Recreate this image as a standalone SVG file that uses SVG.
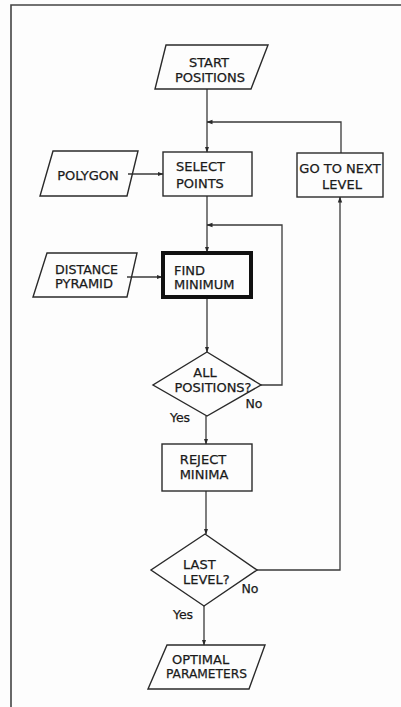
<svg xmlns="http://www.w3.org/2000/svg" width="401" height="707" viewBox="0 0 401 707">
<defs>
<marker id="ah" markerWidth="6" markerHeight="6" refX="5.5" refY="3" orient="auto" markerUnits="userSpaceOnUse">
<path d="M0,0.8 L6,3 L0,5.2 Z" fill="#2a2a2a"/>
</marker>
<style>
.s{fill:none;stroke:#2a2a2a;stroke-width:1.4;stroke-linejoin:miter}
.b{fill:none;stroke:#111;stroke-width:4}
.c{fill:none;stroke:#3a3a3a;stroke-width:1.3;marker-end:url(#ah)}
.t{font-family:"DejaVu Sans",sans-serif;font-size:13px;fill:#1a1a1a;stroke:#1a1a1a;stroke-width:0.25}
.m{text-anchor:middle}
.y{font-size:12.5px}
</style>
</defs>
<rect width="401" height="707" fill="#fdfdfd"/>
<path d="M11,707 V5 H401" fill="none" stroke="#444" stroke-width="1.6"/>
<g id="connectors">
<path class="c" d="M207,89 V152"/>
<path class="c" d="M341,153 V122 H207"/>
<path class="c" d="M128,174 H163"/>
<path class="c" d="M207,196 V252"/>
<path class="c" d="M261,385 H282 V225 H207"/>
<path class="c" d="M127,277 H162"/>
<path class="c" d="M207,298 V352"/>
<path class="c" d="M206,416 V444"/>
<path class="c" d="M206,491 V534"/>
<path class="c" d="M257,570 H340 V197"/>
<path class="c" d="M204,606 V645"/>
</g>
<g id="start">
<path class="s" d="M166,45 H268 L251,89 H155 Z"/>
<text class="t m" x="209" y="67">START</text>
<text class="t m" x="210" y="82">POSITIONS</text>
</g>
<g id="polygon">
<path class="s" d="M53,151 H138 L127,196 H40 Z"/>
<text class="t m" x="88" y="180">POLYGON</text>
</g>
<g id="select">
<rect class="s" x="163" y="152" width="89" height="44"/>
<text class="t" x="176" y="171">SELECT</text>
<text class="t" x="176" y="188">POINTS</text>
</g>
<g id="next">
<rect class="s" x="297" y="153" width="86" height="44"/>
<text class="t m" x="340" y="173">GO TO NEXT</text>
<text class="t m" x="342" y="189">LEVEL</text>
</g>
<g id="distance">
<path class="s" d="M47,253 H137 L127,297 H33 Z"/>
<text class="t" x="55" y="274" textLength="63" lengthAdjust="spacingAndGlyphs">DISTANCE</text>
<text class="t" x="55" y="288">PYRAMID</text>
</g>
<g id="find">
<rect class="b" x="163" y="253" width="88" height="44"/>
<text class="t" x="174" y="275">FIND</text>
<text class="t" x="174" y="289">MINIMUM</text>
</g>
<g id="allpos">
<path class="s" d="M207,352 L261,385 L207,416 L153,385 Z"/>
<text class="t m" x="205" y="377">ALL</text>
<text class="t m" x="213" y="392">POSITIONS?</text>
<text class="t y m" x="254" y="408">No</text>
<text class="t y m" x="180" y="422">Yes</text>
</g>
<g id="reject">
<rect class="s" x="162" y="444" width="90" height="47"/>
<text class="t m" x="203" y="464">REJECT</text>
<text class="t m" x="204" y="479">MINIMA</text>
</g>
<g id="lastlevel">
<path class="s" d="M205,534 L257,570 L204,606 L151,570 Z"/>
<text class="t" x="183" y="569">LAST</text>
<text class="t" x="183" y="584">LEVEL?</text>
<text class="t y m" x="250" y="593">No</text>
<text class="t y m" x="183" y="619">Yes</text>
</g>
<g id="optimal">
<path class="s" d="M167,645 H265 L249,689 H148 Z"/>
<text class="t" x="172" y="664">OPTIMAL</text>
<text class="t" x="166" y="678" textLength="81" lengthAdjust="spacingAndGlyphs">PARAMETERS</text>
</g>
</svg>
